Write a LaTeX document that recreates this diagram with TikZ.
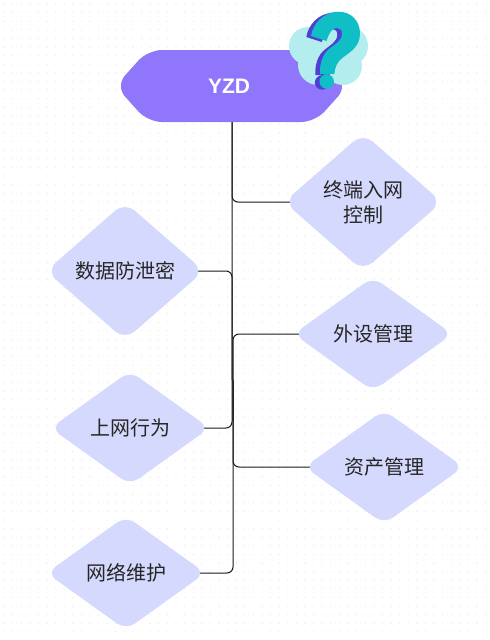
\documentclass[tikz,border=0pt]{standalone}
\usepackage{fontspec}
\setmainfont{Liberation Sans}
\newfontfamily\cjk{Noto Sans CJK SC}
\usetikzlibrary{shapes.geometric,shapes.symbols,backgrounds}
\definecolor{headfill}{HTML}{8F76FA}
\definecolor{topicfill}{HTML}{D5D9FD}
\definecolor{cloudfill}{HTML}{B4EDEE}
\definecolor{qteal}{HTML}{10BEC6}
\definecolor{qblue}{HTML}{4F3FD6}
\newcommand{\qmark}{(311,36) .. controls (313,24) and (323,12) .. (338.3,11.7)
  .. controls (351,11.5) and (360,21) .. (360,33.3)
  .. controls (360,47) and (350,52) .. (342.7,57.7)
  .. controls (337,62) and (335,67) .. (334.3,74) -- (320,74)
  .. controls (319.5,63) and (323,54) .. (329,49)
  .. controls (335,44) and (342,41) .. (342,33.5)
  .. controls (342,30) and (340,28) .. (337,28)
  .. controls (332,28) and (329,33) .. (326.5,41) -- cycle
  (326.7,81.5) circle (7.2)}
\tikzset{
  topic/.style={diamond,fill=topicfill,rounded corners=13pt,inner sep=0pt,
    minimum width=158pt,minimum height=138pt},
  topiclow/.style={topic,rounded corners=11pt,minimum width=159pt,minimum height=114pt},
  topictext/.style={font=\cjk\fontsize{20}{25}\selectfont,text=black!85,align=center,inner sep=0pt},
  link/.style={draw=black!90,line width=1pt,rounded corners=6pt}
}
\begin{document}
\begin{tikzpicture}[x=1pt,y=-1pt]
\useasboundingbox (0,0) rectangle (490,640);
\node[signal,signal to=west and east,signal pointer angle=96,fill=headfill,rounded corners=14pt,
  minimum width=232pt,minimum height=72pt,inner sep=0pt,text=white,font=\bfseries\fontsize{21}{24}\selectfont] (yzd) at (231.5,86) {\hspace*{-5pt}YZD};
% question mark icon
\fill[cloudfill] (308,46) circle (19) (348,46) circle (20) (318,65) circle (20) (343,66) circle (19) (329,50) circle (22);
\fill[qblue,xshift=-4.7pt,yshift=-1pt] \qmark;
\fill[qteal] \qmark;

\node[topic,label={[topictext]center:终端入网\\控制}] (d1) at (363,202) {};
\node[topic,label={[topictext]center:数据防泄密}] (d2) at (125,271) {};
\node[topiclow,label={[topictext]center:外设管理}] (d3) at (373,334) {};
\node[topiclow,label={[topictext]center:上网行为}] (d4) at (130,428) {};
\node[topiclow,label={[topictext]center:资产管理}] (d5) at (384,467) {};
\node[topiclow,label={[topictext]center:网络维护}] (d6) at (126,573) {};

\begin{scope}[on background layer]
\foreach \i in {0,...,56} {
  \foreach \j in {0,...,74} {
    \fill[black!7] (4+8.6*\i,4+8.6*\j) circle (0.8);
  }
}
\coordinate (t1) at (232,122);
\coordinate (t2) at (232,380);
\coordinate (t3) at (233,420);
\coordinate (t4) at (233,380);
\draw[link] (t1) |- (d1.center);
\draw[link] (t1) |- (d4.center);
\draw[link] (t2) |- (d2.center);
\draw[link] (t3) |- (d3.center);
\draw[link] (t4) |- (d5.center);
\draw[link] (t4) |- (d6.center);
\end{scope}
\end{tikzpicture}
\end{document}
